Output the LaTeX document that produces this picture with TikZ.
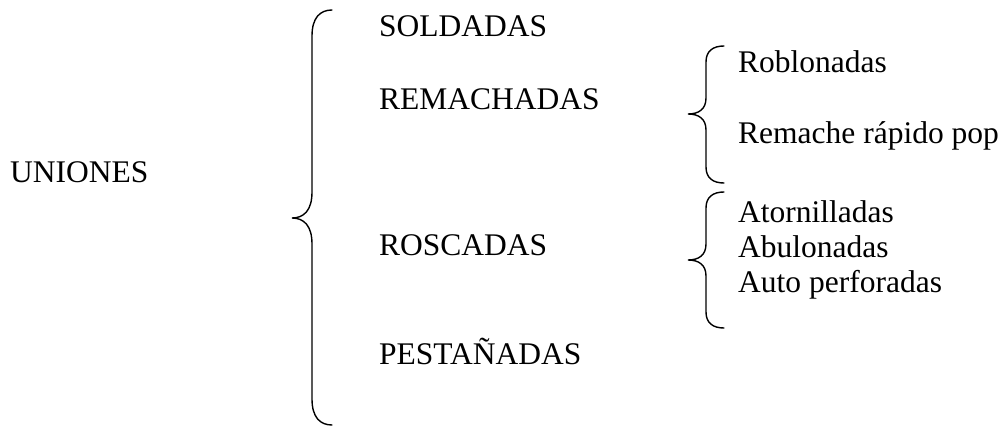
\documentclass[tikz,border=0pt]{standalone}
\usepackage{fontspec}
\setmainfont{Liberation Serif}
\usepackage{tikz}

\tikzset{
    rama/.style={anchor=base west, inner sep=0pt, font=\fontsize{31.5}{36.5}\selectfont},
    llave/.style={line width=1.4pt, line cap=round}
}

% brace: end x, top y, tip y, bottom y, half depth, curve length
\newcommand{\dibujallave}[6]{%
    \draw[llave] (#1,#2) .. controls (#1-0.6*#5,#2) and (#1-#5,#2+0.3*#6) .. (#1-#5,#2+#6)
        -- (#1-#5,#3-#6) .. controls (#1-#5,#3-0.3*#6) and (#1-1.4*#5,#3) .. (#1-2*#5,#3)
        .. controls (#1-1.4*#5,#3) and (#1-#5,#3+0.3*#6) .. (#1-#5,#3+#6)
        -- (#1-#5,#4-#6) .. controls (#1-#5,#4-0.3*#6) and (#1-0.6*#5,#4) .. (#1,#4);}

\begin{document}
\begin{tikzpicture}[x=1pt, y=-1pt]
    \useasboundingbox (0,0) rectangle (1002,426);

    % Root
    \node[rama] (uniones) at (10, 182.5) {UNIONES};
    \dibujallave{332}{10}{218}{425}{20}{26}

    % First level
    \node[rama] (soldadas) at (379, 36) {SOLDADAS};
    \node[rama] (remachadas) at (379, 109) {REMACHADAS};
    \node[rama] (roscadas) at (379, 255) {ROSCADAS};
    \node[rama] (pestanadas) at (379, 364.5) {PESTAÑADAS};

    % Remachadas
    \dibujallave{724}{46}{114}{183}{18}{16}
    \node[rama] (roblonadas) at (738, 72.5) {Roblonadas};
    \node[rama] (pop) at (738, 143) {Remache rápido pop};

    % Roscadas
    \dibujallave{724}{192}{260}{328}{18}{16}
    \node[rama] (atornilladas) at (738, 222) {Atornilladas};
    \node[rama] (abulonadas) at (738, 257) {Abulonadas};
    \node[rama] (autoperf) at (738, 292) {Auto perforadas};
\end{tikzpicture}
\end{document}
